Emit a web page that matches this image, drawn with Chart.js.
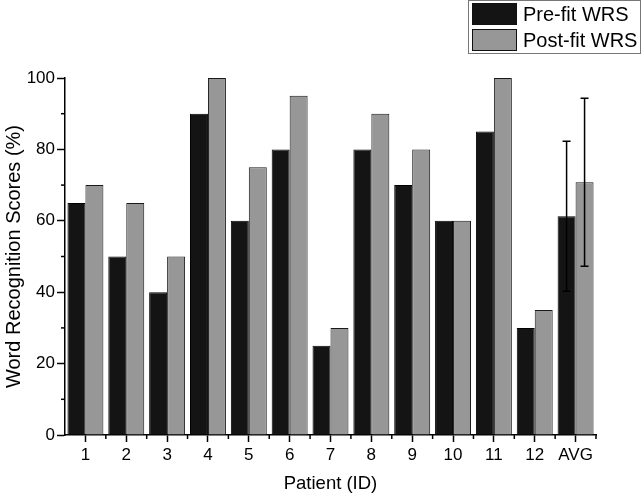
<!DOCTYPE html>
<html>
<head>
<meta charset="utf-8">
<script src="https://cdn.jsdelivr.net/npm/chart.js@4.4.1/dist/chart.umd.min.js"></script>
<style>
    html, body { margin: 0; padding: 0; background: #fff; }
    #wrap { width: 644px; height: 495px; }
</style>
</head>
<body>
<div id="wrap"><canvas id="wrsChart"></canvas></div>
<script>
const patients = ['1', '2', '3', '4', '5', '6', '7', '8', '9', '10', '11', '12', 'AVG'];
const preFit = [65, 50, 40, 90, 60, 80, 25, 80, 70, 60, 85, 30, 61.25];
const postFit = [70, 65, 50, 100, 75, 95, 30, 90, 80, 60, 100, 35, 70.8];
// only the AVG column has error bars
const preErr = [null, null, null, null, null, null, null, null, null, null, null, null, 21];
const postErr = [null, null, null, null, null, null, null, null, null, null, null, null, 23.5];
const seriesNames = ['Pre-fit WRS', 'Post-fit WRS'];
const yTicks = [0, 20, 40, 60, 80, 100];

const FONT = 'Arial, "Liberation Sans", sans-serif';

// error bars, minor ticks and the boxed legend
const extras = {
    id: 'extras',
    afterDatasetsDraw(chart) {
        const ctx = chart.ctx;
        const x = chart.scales.x;
        const y = chart.scales.y;
        ctx.save();
        ctx.strokeStyle = '#000';
        ctx.lineWidth = 1.5;

        [preErr, postErr].forEach((errs, di) => {
            const meta = chart.getDatasetMeta(di);
            errs.forEach((e, i) => {
                if (e == null) return;
                const v = chart.data.datasets[di].data[i];
                const cx = meta.data[i].x;
                const top = y.getPixelForValue(v + e);
                const bot = y.getPixelForValue(v - e);
                ctx.beginPath();
                ctx.moveTo(cx, top);
                ctx.lineTo(cx, bot);
                ctx.moveTo(cx - 4, top);
                ctx.lineTo(cx + 4, top);
                ctx.moveTo(cx - 4, bot);
                ctx.lineTo(cx + 4, bot);
                ctx.stroke();
            });
        });

        // minor y ticks
        for (let v = 10; v < 100; v += 20) {
            const py = y.getPixelForValue(v);
            ctx.beginPath();
            ctx.moveTo(x.left, py);
            ctx.lineTo(x.left - 4, py);
            ctx.stroke();
        }
        // minor x ticks between categories
        for (let i = 0; i < patients.length; i++) {
            const px = i < patients.length - 1
                ? (x.getPixelForValue(i) + x.getPixelForValue(i + 1)) / 2
                : x.right;
            ctx.beginPath();
            ctx.moveTo(px, y.bottom);
            ctx.lineTo(px, y.bottom + 4);
            ctx.stroke();
        }
        ctx.restore();
    },
    afterDraw(chart) {
        const ctx = chart.ctx;
        const ds = chart.data.datasets;
        ctx.save();
        ctx.fillStyle = '#fff';
        ctx.fillRect(468, 0.5, 173, 53);
        ctx.strokeStyle = '#777';
        ctx.lineWidth = 1;
        ctx.strokeRect(468.5, 0.5, 172, 53);
        ds.forEach((d, i) => {
            const top = 3 + i * 26;
            ctx.fillStyle = d.backgroundColor;
            ctx.fillRect(472, top, 45, 22);
            ctx.strokeStyle = '#111';
            ctx.strokeRect(472.5, top + 0.5, 44, 21);
            ctx.fillStyle = '#000';
            ctx.font = '20px ' + FONT;
            ctx.textBaseline = 'middle';
            ctx.fillText(d.label, 523, top + 12);
        });
        ctx.restore();
    }
};

new Chart(document.getElementById('wrsChart'), {
    type: 'bar',
    data: {
        labels: patients,
        datasets: [
            {
                label: seriesNames[0],
                data: preFit,
                backgroundColor: '#141414',
                borderColor: '#000',
                borderWidth: 1,
            },
            {
                label: seriesNames[1],
                data: postFit,
                backgroundColor: '#979797',
                borderColor: '#1a1a1a',
                borderWidth: 1,
            },
        ],
    },
    options: {
        responsive: true,
        maintainAspectRatio: false,
        animation: false,
        layout: {
            padding: { top: 78, right: 48, left: 0, bottom: 0 }
        },
        datasets: {
            bar: { categoryPercentage: 0.88, barPercentage: 1.0 }
        },
        plugins: {
            legend: { display: false },
            tooltip: { enabled: false },
        },
        scales: {
            x: {
                afterFit: s => { s.height = 60; },
                grid: {
                    offset: false,
                    drawOnChartArea: false,
                    drawTicks: true,
                    tickLength: 7,
                    tickWidth: 1.5,
                    tickColor: '#000',
                },
                border: { display: true, color: '#000', width: 1.5 },
                ticks: {
                    color: '#000',
                    padding: 3,
                    maxRotation: 0,
                    font: { family: FONT, size: 17 },
                },
                title: {
                    display: true,
                    text: 'Patient (ID)',
                    color: '#000',
                    padding: { top: 4, bottom: 0 },
                    font: { family: FONT, size: 18.5 },
                },
            },
            y: {
                min: 0,
                max: 100,
                afterFit: s => { s.width = 65; },
                afterBuildTicks: s => { s.ticks = yTicks.map(v => ({ value: v })); },
                grid: {
                    drawOnChartArea: false,
                    drawTicks: true,
                    tickLength: 8,
                    tickWidth: 1.5,
                    tickColor: '#000',
                },
                border: { display: true, color: '#000', width: 1.5 },
                ticks: {
                    color: '#000',
                    padding: 2,
                    font: { family: FONT, size: 17 },
                },
                title: {
                    display: true,
                    text: 'Word Recognition Scores (%)',
                    color: '#000',
                    padding: { top: 2, bottom: 0 },
                    font: { family: FONT, size: 20 },
                },
            },
        },
    },
    plugins: [extras],
});
</script>
</body>
</html>
